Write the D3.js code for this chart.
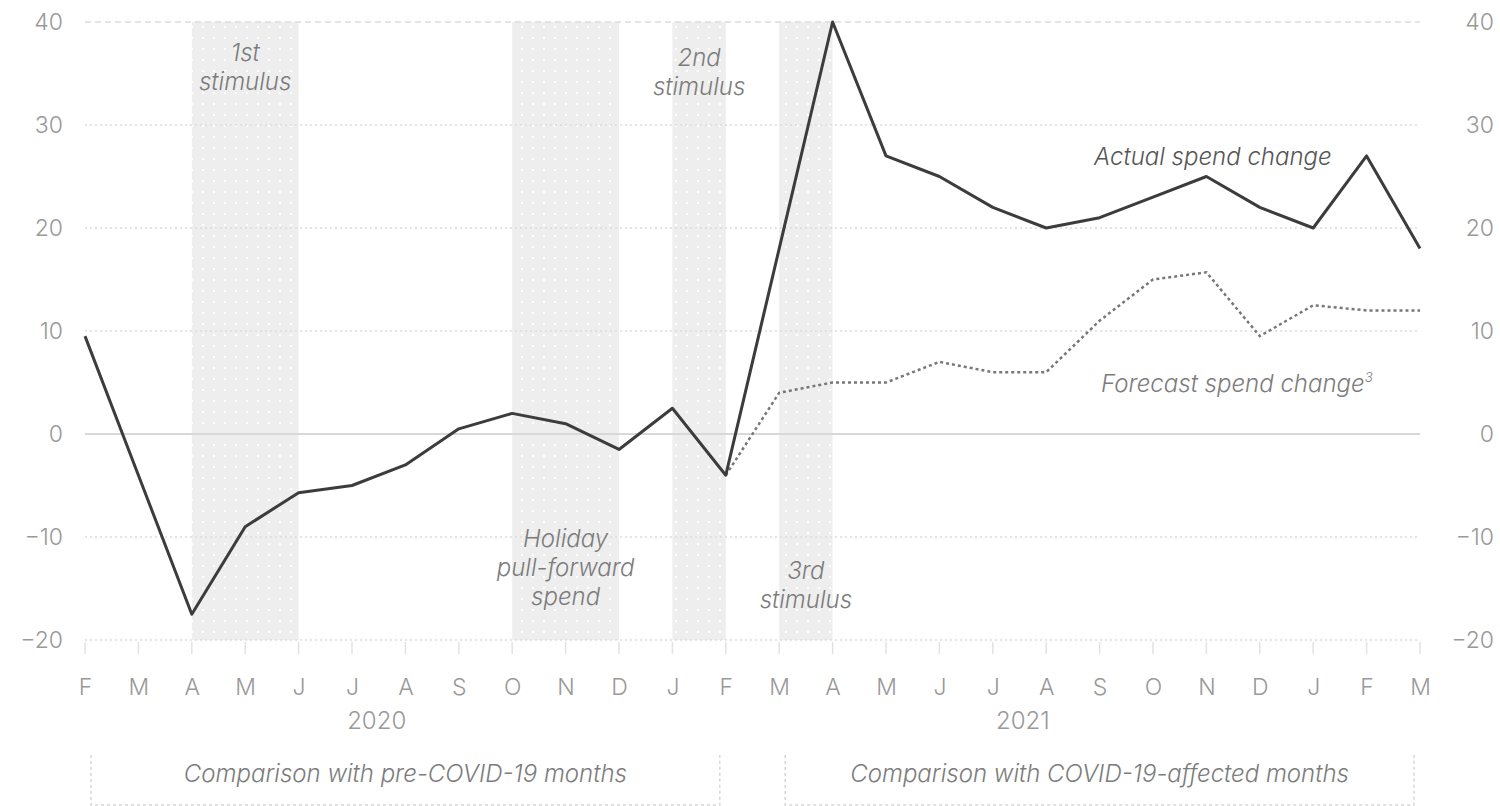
<!DOCTYPE html>
<html>
<head>
<meta charset="utf-8">
<script src="https://cdn.jsdelivr.net/npm/d3@7"></script>
<style>
body{margin:0;background:#fff;}
text{font-family:"Inter","Roboto",sans-serif;font-weight:300;}
.tick text{fill:#999;font-size:23px;}
.note{fill:#7c7c7c;font-size:24px;font-style:italic;}
</style>
</head>
<body>
<svg id="chart"></svg>
<script>
//month tick labels, Feb 2020 .. Mar 2022
var months = ["F","M","A","M","J","J","A","S","O","N","D","J","F",
              "M","A","M","J","J","A","S","O","N","D","J","F","M"];

//actual spend change, %
var actual = [9.5,-4,-17.5,-9,-5.7,-5,-3,0.5,2,1,-1.5,2.5,-4,
              18,40,27,25,22,20,21,23,25,22,20,27,18];

//forecast spend change, % (starts at index 12)
var forecastStart = 12;
var forecast = [-4,4,5,5,7,6,6,11,15,15.7,9.5,12.5,12,12];

var yTicks = [-20,-10,0,10,20,30,40];

//shaded periods [from index, to index, label lines, label value]
var bandFrom = [2,8,11,13];
var bandTo = [4,10,12,14];
var bandLabels = [["1st","stimulus"],["Holiday","pull-forward","spend"],
                  ["2nd","stimulus"],["3rd","stimulus"]];
var bandLabelValue = [36.2,-11,35.7,-14.1];

var years = [{label:"2020",at:5.5},{label:"2021",at:17.6}];
var periods = [{label:"Comparison with pre-COVID-19 months",from:0,to:12},
               {label:"Comparison with COVID-19-affected months",from:13,to:25}];

var drawChart = function(target)
{
    var screen = {width:1500, height:806};
    var margins = {top:22,left:85,right:80,bottom:166};
    var graph = {
        width:screen.width-margins.left-margins.right,
        height:screen.height-margins.top-margins.bottom
    };

    var svg = d3.select(target)
        .attr("width",screen.width)
        .attr("height",screen.height);

    var xScale = d3.scaleLinear()
        .domain([0,months.length-1])
        .range([margins.left,margins.left+graph.width]);

    var yScale = d3.scaleLinear()
        .domain([-20,40])
        .range([640,22]);

    //dotted pattern for the shaded periods
    var pat = svg.append("defs").append("pattern")
        .attr("id","dots")
        .attr("width",11).attr("height",11)
        .attr("patternUnits","userSpaceOnUse");
    pat.append("rect").attr("width",11).attr("height",11).attr("fill","#eeeeee");
    pat.append("rect").attr("x",4).attr("y",4)
        .attr("width",2).attr("height",2).attr("fill","#ffffff");

    //bands
    svg.append("g").selectAll("rect")
        .data(bandFrom)
        .enter()
        .append("rect")
        .attr("x",function(d){return xScale(d);})
        .attr("width",function(d,i){return xScale(bandTo[i])-xScale(d);})
        .attr("y",yScale(40))
        .attr("height",yScale(-20)-yScale(40))
        .attr("fill","url(#dots)");

    //gridlines
    svg.append("g").selectAll("line")
        .data(yTicks)
        .enter()
        .append("line")
        .attr("x1",xScale(0))
        .attr("x2",xScale(months.length-1))
        .attr("y1",function(d){return yScale(d);})
        .attr("y2",function(d){return yScale(d);})
        .attr("stroke",function(d){return d==0 ? "#d8d8d8" : "#dcdcdc";})
        .attr("stroke-width",function(d){return d==0 ? 2 : 1.5;})
        .attr("stroke-dasharray",function(d){
            if(d==0) return null;
            return d==40 ? "6,4" : "2,3";
        });

    //small month ticks under the plot
    svg.append("g").selectAll("line")
        .data(months)
        .enter()
        .append("line")
        .attr("x1",function(d,i){return xScale(i);})
        .attr("x2",function(d,i){return xScale(i);})
        .attr("y1",yScale(-20)+2)
        .attr("y2",yScale(-20)+14)
        .attr("stroke","#e2e2e2")
        .attr("stroke-width",1.5);

    //axes
    var fmt = function(d){return d<0 ? "\u2212"+Math.abs(d) : d;};
    var yLeft = d3.axisLeft(yScale).tickValues(yTicks).tickSize(0).tickPadding(0)
        .tickFormat(fmt);
    var yRight = d3.axisLeft(yScale).tickValues(yTicks).tickSize(0).tickPadding(0)
        .tickFormat(fmt);

    var gl = svg.append("g")
        .attr("transform","translate(63,0)")
        .call(yLeft);
    //right labels are right-aligned too
    var gr = svg.append("g")
        .attr("transform","translate(1494,0)")
        .call(yRight);
    gl.select(".domain").remove();
    gr.select(".domain").remove();

    var xAxis = d3.axisBottom(xScale)
        .tickValues(d3.range(months.length))
        .tickSize(0).tickPadding(0)
        .tickFormat(function(i){return months[i];});
    var gx = svg.append("g")
        .attr("transform","translate(0,695)")
        .call(xAxis);
    gx.select(".domain").remove();
    gx.selectAll(".tick text").attr("dy","0");

    //years
    svg.append("g").selectAll("text")
        .data(years)
        .enter()
        .append("text")
        .attr("x",function(d){return xScale(d.at)-2;})
        .attr("y",729)
        .attr("text-anchor","middle")
        .attr("fill","#999")
        .attr("font-size",24)
        .text(function(d){return d.label;});

    //period brackets
    var pg = svg.append("g").selectAll("g")
        .data(periods)
        .enter()
        .append("g");
    pg.append("path")
        .attr("d",function(d){
            var x1 = xScale(d.from)+6, x2 = xScale(d.to)-6;
            return "M"+x1+",755V805H"+x2+"V755";
        })
        .attr("fill","none")
        .attr("stroke","#d6d6d6")
        .attr("stroke-width",1.5)
        .attr("stroke-dasharray","3,3");
    pg.append("text")
        .attr("class","note")
        .attr("x",function(d){return (xScale(d.from)+xScale(d.to))/2;})
        .attr("y",782)
        .attr("text-anchor","middle")
        .text(function(d){return d.label;});

    //band labels
    var bl = svg.append("g").selectAll("text")
        .data(bandLabels)
        .enter()
        .append("text")
        .attr("class","note")
        .attr("text-anchor","middle")
        .attr("x",function(d,i){return (xScale(bandFrom[i])+xScale(bandTo[i]))/2;})
        .attr("y",function(d,i){return yScale(bandLabelValue[i]);});
    bl.selectAll("tspan")
        .data(function(d){return d;})
        .enter()
        .append("tspan")
        .attr("x",function(){return d3.select(this.parentNode).attr("x");})
        .attr("dy",function(d,j){return j==0 ? 0 : 29;})
        .text(function(d){return d;});

    //lines
    var line = d3.line()
        .x(function(d,i){return xScale(i);})
        .y(function(d){return yScale(d);});
    var lineF = d3.line()
        .x(function(d,i){return xScale(i+forecastStart);})
        .y(function(d){return yScale(d);});

    svg.append("path")
        .datum(forecast)
        .attr("d",lineF)
        .attr("fill","none")
        .attr("stroke","#777")
        .attr("stroke-width",2.5)
        .attr("stroke-dasharray","3,3");

    svg.append("path")
        .datum(actual)
        .attr("d",line)
        .attr("fill","none")
        .attr("stroke","#3c3c3c")
        .attr("stroke-width",3)
        .attr("stroke-linejoin","round");

    //series labels
    svg.append("text")
        .attr("class","note")
        .attr("x",xScale(21.12))
        .attr("y",yScale(26.1))
        .attr("text-anchor","middle")
        .style("fill","#555")
        .text("Actual spend change");

    var ft = svg.append("text")
        .attr("class","note")
        .attr("x",xScale(21.57))
        .attr("y",yScale(4.1))
        .attr("text-anchor","middle")
        .text("Forecast spend change");
    ft.append("tspan")
        .attr("dy",-10)
        .attr("font-size",13)
        .text("3");
}

drawChart("#chart");
</script>
</body>
</html>
